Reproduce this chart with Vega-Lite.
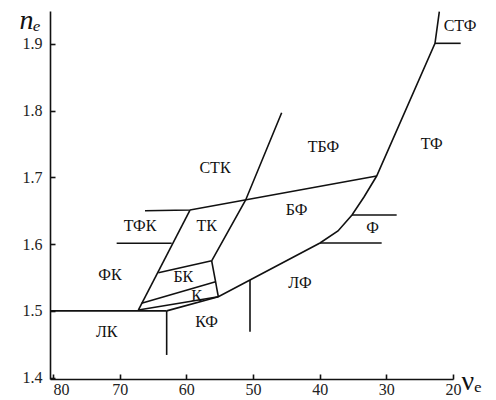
{
  "$schema": "https://vega.github.io/schema/vega-lite/v6.json",
  "width": 403,
  "height": 368,
  "autosize": {"type": "none"},
  "padding": {"left": 50, "top": 11, "right": 43, "bottom": 21},
  "background": "white",
  "config": {
    "view": {"stroke": null},
    "axis": {"grid": false, "domainColor": "#111", "domainWidth": 1.6, "tickColor": "#111", "tickWidth": 1.6, "labelFont": "Liberation Serif", "labelFontSize": 16, "labelColor": "#222", "titleFont": "Liberation Serif", "titleFontWeight": "normal", "titleColor": "#111"}
  },
  "datasets": {
    "lines": [
      {"seg": "A", "ord": 1, "nu": 80.45, "n": 1.5},
      {"seg": "A", "ord": 2, "nu": 62.95, "n": 1.5},
      {"seg": "B", "ord": 1, "nu": 62.95, "n": 1.5},
      {"seg": "B", "ord": 2, "nu": 62.95, "n": 1.434},
      {"seg": "C", "ord": 1, "nu": 62.95, "n": 1.5},
      {"seg": "C", "ord": 2, "nu": 55.2, "n": 1.5212},
      {"seg": "C", "ord": 3, "nu": 50.45, "n": 1.5462},
      {"seg": "C", "ord": 4, "nu": 39.95, "n": 1.6016},
      {"seg": "C", "ord": 5, "nu": 37.25, "n": 1.6196},
      {"seg": "C", "ord": 6, "nu": 35.15, "n": 1.6436},
      {"seg": "C", "ord": 7, "nu": 33.35, "n": 1.6705},
      {"seg": "C", "ord": 8, "nu": 31.45, "n": 1.7019},
      {"seg": "C", "ord": 9, "nu": 22.7, "n": 1.9006},
      {"seg": "C", "ord": 10, "nu": 22.05, "n": 1.948},
      {"seg": "D", "ord": 1, "nu": 50.45, "n": 1.5462},
      {"seg": "D", "ord": 2, "nu": 50.45, "n": 1.4688},
      {"seg": "E", "ord": 1, "nu": 39.95, "n": 1.6016},
      {"seg": "E", "ord": 2, "nu": 30.7, "n": 1.6016},
      {"seg": "F", "ord": 1, "nu": 35.15, "n": 1.6436},
      {"seg": "F", "ord": 2, "nu": 28.45, "n": 1.6436},
      {"seg": "G", "ord": 1, "nu": 22.7, "n": 1.9006},
      {"seg": "G", "ord": 2, "nu": 18.85, "n": 1.9006},
      {"seg": "H", "ord": 1, "nu": 67.2, "n": 1.5013},
      {"seg": "H", "ord": 2, "nu": 55.2, "n": 1.5212},
      {"seg": "I", "ord": 1, "nu": 66.72, "n": 1.5113},
      {"seg": "I", "ord": 2, "nu": 55.61, "n": 1.5437},
      {"seg": "J", "ord": 1, "nu": 64.2, "n": 1.5572},
      {"seg": "J", "ord": 2, "nu": 56.2, "n": 1.575},
      {"seg": "K", "ord": 1, "nu": 56.2, "n": 1.575},
      {"seg": "K", "ord": 2, "nu": 55.2, "n": 1.5212},
      {"seg": "L", "ord": 1, "nu": 56.2, "n": 1.575},
      {"seg": "L", "ord": 2, "nu": 51.1, "n": 1.666},
      {"seg": "L", "ord": 3, "nu": 45.7, "n": 1.7967},
      {"seg": "M", "ord": 1, "nu": 66.2, "n": 1.65},
      {"seg": "M", "ord": 2, "nu": 59.45, "n": 1.651},
      {"seg": "M", "ord": 3, "nu": 31.45, "n": 1.7019},
      {"seg": "N", "ord": 1, "nu": 70.45, "n": 1.6012},
      {"seg": "N", "ord": 2, "nu": 62.2, "n": 1.6012},
      {"seg": "O", "ord": 1, "nu": 67.2, "n": 1.5013},
      {"seg": "O", "ord": 2, "nu": 59.45, "n": 1.651}
    ],
    "labels": [
      {"label": "СТК", "nu": 55.7, "n": 1.714},
      {"label": "ТБФ", "nu": 39.45, "n": 1.746},
      {"label": "ТФ", "nu": 23.2, "n": 1.75},
      {"label": "СТФ", "nu": 18.95, "n": 1.9265},
      {"label": "ТФК", "nu": 66.95, "n": 1.627},
      {"label": "ТК", "nu": 56.95, "n": 1.627},
      {"label": "ФК", "nu": 71.45, "n": 1.554},
      {"label": "БК", "nu": 60.45, "n": 1.5503},
      {"label": "К", "nu": 58.45, "n": 1.5223},
      {"label": "КФ", "nu": 56.95, "n": 1.4838},
      {"label": "ЛК", "nu": 71.95, "n": 1.468},
      {"label": "БФ", "nu": 43.45, "n": 1.651},
      {"label": "Ф", "nu": 32.05, "n": 1.6236},
      {"label": "ЛФ", "nu": 42.95, "n": 1.5422}
    ]
  },
  "layer": [
    {
      "data": {"name": "lines"},
      "mark": {"type": "line", "color": "#111", "strokeWidth": 1.6, "clip": false},
      "encoding": {
        "x": {"field": "nu", "type": "quantitative", "scale": {"domain": [80.45, 20], "nice": false, "zero": false},
          "axis": {"values": [80, 70, 60, 50, 40, 30, 20], "tickSize": -5, "labelPadding": 7, "labelAlign": {"condition": {"test": "datum.value == 80", "value": "left"}, "value": "center"}, "title": "νₑ", "titleFontSize": 28, "titleX": 411, "titleY": 10, "titleAlign": "left", "titleBaseline": "alphabetic"}},
        "y": {"field": "n", "type": "quantitative", "scale": {"domain": [1.398, 1.949], "nice": false, "zero": false},
          "axis": {"values": [1.4, 1.5, 1.6, 1.7, 1.8, 1.9], "format": ".1f", "tickSize": -5, "labelPadding": 13, "title": "nₑ", "titleFontSize": 28, "titleFontStyle": "italic", "titleAngle": 0, "titleX": -31, "titleY": 17, "titleAlign": "left", "titleBaseline": "alphabetic"}},
        "detail": {"field": "seg"},
        "order": {"field": "ord"}
      }
    },
    {
      "data": {"name": "labels"},
      "mark": {"type": "text", "font": "Liberation Serif", "fontSize": 16, "color": "#111", "align": "center", "baseline": "middle"},
      "encoding": {
        "x": {"field": "nu", "type": "quantitative"},
        "y": {"field": "n", "type": "quantitative"},
        "text": {"field": "label"}
      }
    }
  ]
}
